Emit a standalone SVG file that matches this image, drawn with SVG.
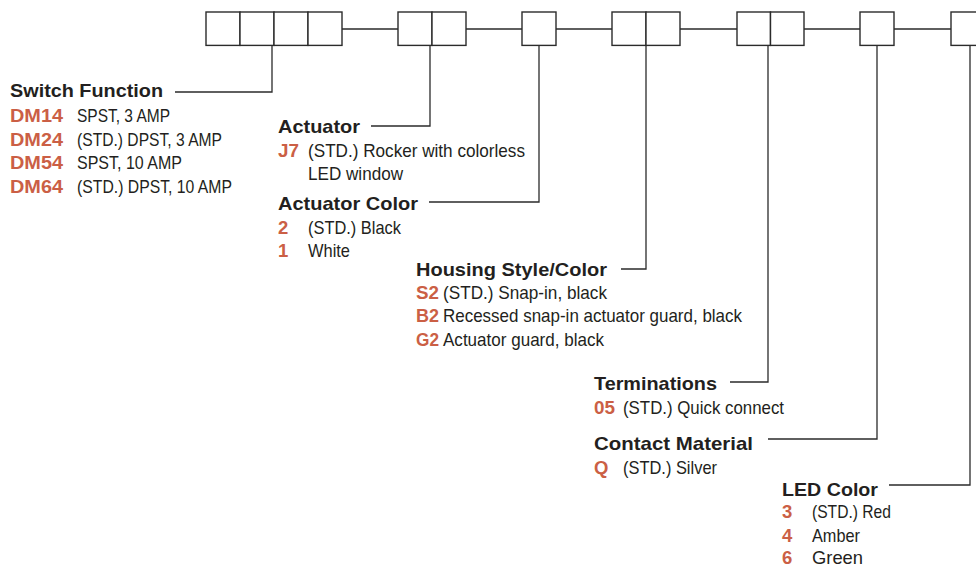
<svg xmlns="http://www.w3.org/2000/svg" width="976" height="567" viewBox="0 0 976 567">
<style>
.box{fill:#fff;stroke:#2b2b2b;stroke-width:1.4}
.ln{fill:none;stroke:#2b2b2b;stroke-width:1.3}
.h{font-family:"Liberation Sans",Arial,sans-serif;font-weight:bold;font-size:18.5px;fill:#231f20}
.c{font-family:"Liberation Sans",Arial,sans-serif;font-weight:bold;font-size:18.5px;fill:#cb5f45}
.d{font-family:"Liberation Sans",Arial,sans-serif;font-size:18.5px;fill:#231f20}
</style>
<rect width="976" height="567" fill="#fff"/>
<g id="connectors">
<path class="ln" d="M342 29H398M466 29H522M556 29H612M680 29H737M804 29H860M894 29H951"/>
<path class="ln" d="M175 92H272V45"/>
<path class="ln" d="M371 126H430V45"/>
<path class="ln" d="M429 202H539V45"/>
<path class="ln" d="M621 269H646V45"/>
<path class="ln" d="M730 382H768V45"/>
<path class="ln" d="M768 439H877V45"/>
<path class="ln" d="M889 485H970V45"/>
</g>
<g id="boxes">
<rect class="box" x="206" y="12" width="34" height="33.4"/>
<rect class="box" x="240" y="12" width="34" height="33.4"/>
<rect class="box" x="274" y="12" width="34" height="33.4"/>
<rect class="box" x="308" y="12" width="34" height="33.4"/>
<rect class="box" x="398" y="12" width="34" height="33.4"/>
<rect class="box" x="432" y="12" width="34" height="33.4"/>
<rect class="box" x="522" y="12" width="34" height="33.4"/>
<rect class="box" x="612" y="12" width="34" height="33.4"/>
<rect class="box" x="646" y="12" width="34" height="33.4"/>
<rect class="box" x="737" y="12" width="33.5" height="33.4"/>
<rect class="box" x="770.5" y="12" width="33.5" height="33.4"/>
<rect class="box" x="860" y="12" width="34" height="33.4"/>
<rect class="box" x="951" y="12" width="34" height="33.4"/>
</g>
<g id="switch-function">
<text class="h" x="10" y="97" textLength="153" lengthAdjust="spacingAndGlyphs">Switch Function</text>
<text class="c" x="10" y="122" textLength="53" lengthAdjust="spacingAndGlyphs">DM14</text>
<text class="d" x="77" y="122" textLength="93" lengthAdjust="spacingAndGlyphs">SPST, 3 AMP</text>
<text class="c" x="10" y="145.5" textLength="53" lengthAdjust="spacingAndGlyphs">DM24</text>
<text class="d" x="77" y="145.5" textLength="145" lengthAdjust="spacingAndGlyphs">(STD.) DPST, 3 AMP</text>
<text class="c" x="10" y="169" textLength="53" lengthAdjust="spacingAndGlyphs">DM54</text>
<text class="d" x="77" y="169" textLength="105" lengthAdjust="spacingAndGlyphs">SPST, 10 AMP</text>
<text class="c" x="10" y="192.5" textLength="53" lengthAdjust="spacingAndGlyphs">DM64</text>
<text class="d" x="77" y="192.5" textLength="155" lengthAdjust="spacingAndGlyphs">(STD.) DPST, 10 AMP</text>
</g>
<g id="actuator">
<text class="h" x="278" y="132.5" textLength="82" lengthAdjust="spacingAndGlyphs">Actuator</text>
<text class="c" x="278" y="156.5" textLength="21" lengthAdjust="spacingAndGlyphs">J7</text>
<text class="d" x="308" y="156.5" textLength="217" lengthAdjust="spacingAndGlyphs">(STD.) Rocker with colorless</text>
<text class="d" x="308" y="180" textLength="95" lengthAdjust="spacingAndGlyphs">LED window</text>
</g>
<g id="actuator-color">
<text class="h" x="278" y="209.5" textLength="140" lengthAdjust="spacingAndGlyphs">Actuator Color</text>
<text class="c" x="278" y="233.5">2</text>
<text class="d" x="308" y="233.5" textLength="93" lengthAdjust="spacingAndGlyphs">(STD.) Black</text>
<text class="c" x="278" y="257">1</text>
<text class="d" x="308" y="257" textLength="42" lengthAdjust="spacingAndGlyphs">White</text>
</g>
<g id="housing">
<text class="h" x="416" y="275.5" textLength="191" lengthAdjust="spacingAndGlyphs">Housing Style/Color</text>
<text class="c" x="416" y="298.5" textLength="23" lengthAdjust="spacingAndGlyphs">S2</text>
<text class="d" x="443" y="298.5" textLength="164" lengthAdjust="spacingAndGlyphs">(STD.) Snap-in, black</text>
<text class="c" x="416" y="322" textLength="23" lengthAdjust="spacingAndGlyphs">B2</text>
<text class="d" x="443" y="322" textLength="299" lengthAdjust="spacingAndGlyphs">Recessed snap-in actuator guard, black</text>
<text class="c" x="416" y="345.5" textLength="23" lengthAdjust="spacingAndGlyphs">G2</text>
<text class="d" x="443" y="345.5" textLength="161" lengthAdjust="spacingAndGlyphs">Actuator guard, black</text>
</g>
<g id="terminations">
<text class="h" x="594" y="389.5" textLength="123" lengthAdjust="spacingAndGlyphs">Terminations</text>
<text class="c" x="594" y="413.5" textLength="21" lengthAdjust="spacingAndGlyphs">05</text>
<text class="d" x="623" y="413.5" textLength="161" lengthAdjust="spacingAndGlyphs">(STD.) Quick connect</text>
</g>
<g id="contact-material">
<text class="h" x="594" y="449.5" textLength="159" lengthAdjust="spacingAndGlyphs">Contact Material</text>
<text class="c" x="594" y="473.5">Q</text>
<text class="d" x="623" y="473.5" textLength="94" lengthAdjust="spacingAndGlyphs">(STD.) Silver</text>
</g>
<g id="led-color">
<text class="h" x="782" y="495.5" textLength="96" lengthAdjust="spacingAndGlyphs">LED Color</text>
<text class="c" x="782" y="518">3</text>
<text class="d" x="812" y="518" textLength="79" lengthAdjust="spacingAndGlyphs">(STD.) Red</text>
<text class="c" x="782" y="541.5">4</text>
<text class="d" x="812" y="541.5" textLength="48" lengthAdjust="spacingAndGlyphs">Amber</text>
<text class="c" x="782" y="564">6</text>
<text class="d" x="812" y="564" textLength="51" lengthAdjust="spacingAndGlyphs">Green</text>
</g>
</svg>
